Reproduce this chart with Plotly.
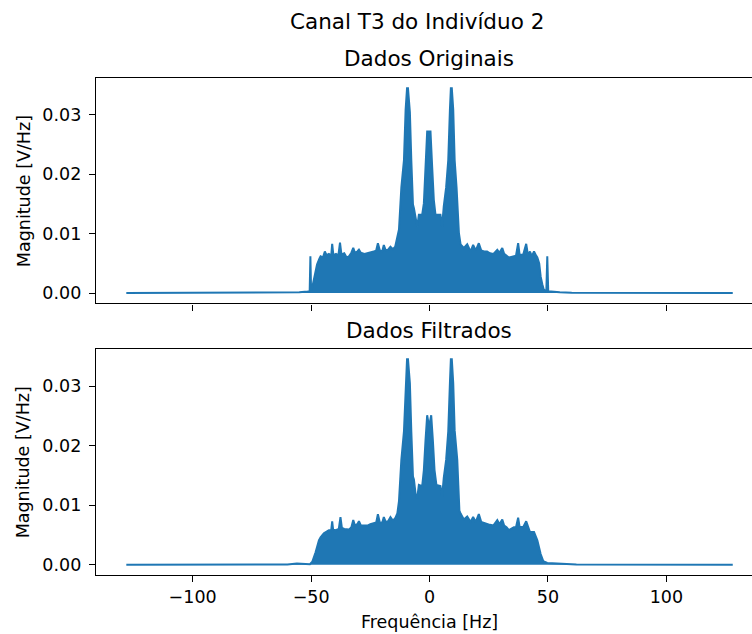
import numpy as np
import plotly.graph_objects as go
from plotly.subplots import make_subplots

# Envelope of the magnitude spectrum (values in 1e-3 V/Hz)
freq_orig = [-128, -60, -55, -51.5, -50.6, -50.3, -50.0, -49.5, -48.5, -47.5,
             -46.5, -46, -45, -44.2, -43.5, -42.5, -41.5, -41.1, -40.6, -39.5,
             -38.5, -37.8, -37.2, -36, -35, -34, -33, -32.2, -31.5, -30.5,
             -29.8, -29, -27.5, -26.3, -25, -23.5, -22.5, -21.8, -21, -20,
             -19.3, -18.5, -17.5, -16.5, -15.5, -14.5, -13.9, -12.9, -11.9, -10.8,
             -10.1, -9.5, -9.1, -8.3, -7.7, -7.0, -6.6, -5.9, -5.2, -4.5,
             -3.1, -2.4, -1.7, -1.0, -0.6, -0.2, 0.1, 0.4, 1.1, 1.8,
             2.5, 4.6, 5.3, 6.0, 7.0, 7.9, 8.6, 9.0, 9.4, 10.0,
             10.6, 11.4, 12.4, 13.1, 14.5, 15.9, 17.3, 18.4, 19.5, 20.8,
             21.8, 23, 24.3, 25.5, 27, 28.6, 29.5, 30.7, 31.5, 32.5,
             33.5, 34.5, 35.6, 36.5, 37.4, 38, 39.5, 40.8, 41.5, 42.4,
             43.2, 44.1, 45, 45.5, 46.3, 46.9, 47.6, 48.2, 49.3, 49.7,
             50.1, 52, 55, 60, 128]
mag_orig = [0, 0.05, 0.15, 0.25, 0.3, 6.2, 0.4, 1.0, 3.0, 4.8,
            5.8, 6.2, 6.0, 7.0, 6.4, 6.6, 6.3, 8.3, 6.4, 6.6,
            6.3, 8.5, 6.5, 6.7, 6.0, 6.2, 6.8, 7.6, 6.8, 7.0,
            7.3, 6.8, 6.6, 6.7, 6.9, 7.0, 7.2, 8.4, 7.2, 7.0,
            8.1, 7.2, 7.3, 7.8, 7.4, 7.8, 8.9, 10.7, 17.8, 22.4,
            30.9, 34.5, 34.5, 30.5, 22.4, 14.9, 14.3, 12.3, 11.2, 13.2,
            13.2, 15.1, 21.3, 27.2, 27.2, 25.5, 27.2, 27.2, 21.3, 15.7,
            13.2, 13.2, 11.2, 14.6, 17.8, 22.4, 30.9, 34.5, 34.5, 30.9,
            22.4, 17.8, 10.1, 8.2, 7.6, 8.2, 7.0, 8.1, 7.2, 8.4,
            7.2, 7.0, 7.0, 6.7, 6.6, 7.3, 6.8, 7.6, 6.6, 6.3,
            6.0, 6.1, 6.2, 6.3, 8.4, 6.5, 6.4, 8.3, 6.5, 7.0,
            6.2, 7.0, 6.3, 6.0, 5.0, 2.8, 1.5, 0.6, 0.3, 6.2,
            0.3, 0.2, 0.15, 0.05, 0]

freq_filt = [-128, -60, -56, -53, -50.5, -49.5, -48.1, -46.7, -46.0, -44.6,
             -43.5, -42.5, -41.5, -41.1, -40.7, -39.6, -38.3, -37.6, -37.0, -36,
             -34, -33, -32.2, -31.5, -30.5, -29.8, -29, -27.5, -26, -25,
             -23.5, -22.5, -21.8, -21, -20, -19.3, -18.5, -17.5, -16.5, -15.5,
             -14.5, -13.6, -12.9, -11.9, -10.8, -10.1, -9.5, -9.1, -8.3, -7.7,
             -7.0, -6.6, -5.9, -5.2, -4.5, -3.1, -2.4, -1.7, -1.0, -0.2,
             0.7, 1.4, 2.1, 2.9, 4.6, 5.3, 6.0, 7.0, 7.9, 8.6,
             9.0, 9.4, 10.0, 10.6, 11.7, 12.6, 13.1, 14.5, 15.9, 17.3,
             18.4, 19.5, 20.8, 21.8, 23, 24.3, 25.5, 27, 28.6, 29.5,
             30.7, 31.5, 32.5, 33.5, 34.5, 35.6, 36.5, 37.4, 38, 39.5,
             40.8, 41.5, 42.4, 44.1, 45.5, 46.9, 48.0, 49.7, 53, 57,
             62, 128]
mag_filt = [0, 0.05, 0.2, 0.2, 0.1, 0.5, 2.1, 4.1, 4.6, 5.3,
            5.5, 5.8, 5.8, 7.3, 5.9, 5.8, 6.0, 8.0, 6.2, 6.0,
            5.9, 6.3, 7.5, 6.6, 6.8, 7.3, 6.6, 6.6, 6.6, 6.8,
            7.0, 7.1, 8.5, 7.1, 7.0, 8.0, 7.2, 7.3, 8.0, 7.4,
            7.8, 8.6, 10.7, 17.6, 22.4, 30.9, 34.5, 34.5, 30.5, 22.4,
            14.8, 14.3, 11.9, 11.2, 13.4, 13.2, 15.9, 20.9, 25.1, 23.2,
            25.1, 20.9, 15.9, 13.4, 13.2, 11.4, 14.6, 17.6, 22.4, 30.5,
            34.5, 34.5, 30.5, 22.6, 17.6, 9.1, 8.6, 7.6, 8.1, 7.2,
            8.0, 7.2, 8.5, 7.2, 7.0, 6.9, 6.7, 6.6, 7.5, 6.8,
            7.6, 6.6, 6.3, 5.8, 6.0, 6.3, 6.3, 7.9, 6.4, 6.3,
            7.3, 6.4, 5.5, 5.5, 4.1, 1.8, 0.6, 0.3, 0.25, 0.1,
            0.05, 0]

x_ticks = [-100, -50, 0, 50, 100]
y_ticks = [0.00, 0.01, 0.02, 0.03]

suptitle = "Canal T3 do Indivíduo 2"
titles = ["Dados Originais", "Dados Filtrados"]
ylabel = "Magnitude [V/Hz]"
xlabel = "Frequência [Hz]"

BLUE = "#1f77b4"
FONT = "DejaVu Sans"
W, H = 752, 634
ML, MR, MT, MB = 95.7, 0, 78, 59
plot_h = H - MT - MB
plot_w = W - ML - MR


def py(ypx):
    return (H - MB - ypx) / plot_h


def px(xpx):
    return (xpx - ML) / plot_w


fig = make_subplots(rows=2, cols=1, shared_xaxes=False, vertical_spacing=0.09)

for row, (f, m) in enumerate([(freq_orig, mag_orig), (freq_filt, mag_filt)], start=1):
    fig.add_trace(go.Scatter(x=f, y=np.array(m) * 1e-3, mode="lines",
                             line=dict(color=BLUE, width=2),
                             fill="tozeroy", fillcolor=BLUE,
                             showlegend=False, hoverinfo="skip"),
                  row=row, col=1)

xr = [-140.8, -140.8 + plot_w / 2.37]
yr = [-0.00172, 0.03622]

axis_common = dict(showline=True, linecolor="black", linewidth=1.4,
                   ticks="outside", ticklen=6, tickwidth=1.4, tickcolor="black",
                   showgrid=False, zeroline=False,
                   tickfont=dict(family=FONT, size=17.5, color="black"))

fig.update_xaxes(range=xr, tickvals=x_ticks, mirror=True, **axis_common)
fig.update_xaxes(showticklabels=False, row=1, col=1)
fig.update_xaxes(ticktext=[("\u2212" + str(abs(v))) if v < 0 else str(v) for v in x_ticks],
                 row=2, col=1)
fig.update_yaxes(range=yr, tickvals=y_ticks, tickformat=".2f", mirror=False,
                 ticklabelstandoff=4, **axis_common)

fig.layout.yaxis.domain = [py(303.3), 1.0]
fig.layout.yaxis2.domain = [0.0, py(349)]

ann_font = dict(family=FONT, size=21.5, color="black")
lab_font = dict(family=FONT, size=17.5, color="black")
annotations = [
    dict(text=suptitle, x=px(416.7), y=py(21), font=ann_font),
    dict(text=titles[0], x=px(429), y=py(58.6), font=ann_font),
    dict(text=titles[1], x=px(429), y=py(330.1), font=ann_font),
    dict(text=ylabel, x=px(23), y=py(190.8), textangle=-90, font=lab_font),
    dict(text=ylabel, x=px(23), y=py(462), textangle=-90, font=lab_font),
    dict(text=xlabel, x=px(429), y=py(622), font=lab_font),
]
for a in annotations:
    fig.add_annotation(xref="paper", yref="paper", showarrow=False,
                       xanchor="center", yanchor="middle", **a)

fig.update_layout(width=W, height=H, margin=dict(l=ML, r=MR, t=MT, b=MB),
                  paper_bgcolor="white", plot_bgcolor="white",
                  font=dict(family=FONT, color="black"), showlegend=False)

fig.write_html("out.html", config={"displayModeBar": False},
               post_script="document.body.style.margin='0';"
                           "document.body.style.overflow='hidden';")
